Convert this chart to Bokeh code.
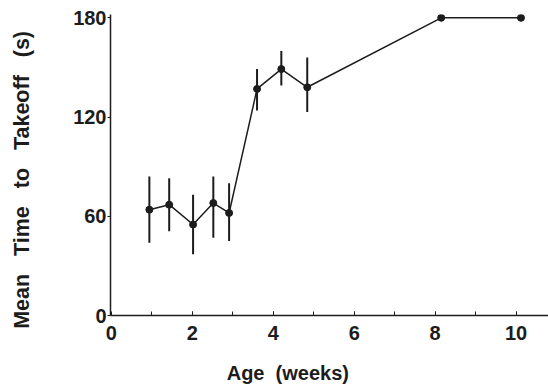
from bokeh.plotting import figure
from bokeh.models import Range1d, FixedTicker
from bokeh.embed import file_html
from bokeh.resources import INLINE

# Data
age_weeks = [0.94, 1.43, 2.02, 2.52, 2.91, 3.6, 4.2, 4.84, 8.15, 10.12]
mean_time = [64, 67, 55, 68, 62, 137, 149, 138, 180, 180]
err_upper = [84, 83, 73, 84, 80, 149, 160, 156, 180, 180]
err_lower = [44, 51, 37, 47, 45, 124, 139, 123, 180, 180]
x_ticks = [0, 2, 4, 6, 8, 10]
x_minor = [1, 2, 3, 4, 5, 6, 7, 8, 9, 10]
y_ticks = [0, 60, 120, 180]

INK = "#1c1c1c"
FONT = "Liberation Sans"
NB = "\u00a0"

p = figure(width=548, height=386, output_backend="svg", toolbar_location=None,
           x_range=Range1d(-0.02, 10.8), y_range=Range1d(0, 182),
           min_border_left=110, min_border_right=0, min_border_top=14, min_border_bottom=71)
p.outline_line_color = None
p.grid.visible = False

# error bars
p.segment(x0=age_weeks, y0=err_lower, x1=age_weeks, y1=err_upper, line_color=INK, line_width=2)
# connecting line
p.line(age_weeks, mean_time, line_color=INK, line_width=1.5)
p.scatter(age_weeks, mean_time, size=7, fill_color=INK, line_color=INK)

xa = p.xaxis[0]
xa.ticker = FixedTicker(ticks=x_ticks, minor_ticks=x_minor)
xa.axis_label = "Age" + NB * 2 + "(weeks)" + NB * 15
xa.axis_label_text_font = FONT
xa.axis_label_text_font_style = "bold"
xa.axis_label_text_font_size = "20px"
xa.axis_label_text_color = INK
xa.axis_label_standoff = 19
xa.major_label_text_font = FONT
xa.major_label_text_font_style = "bold"
xa.major_label_text_font_size = "20px"
xa.major_label_text_color = INK
xa.major_label_standoff = 10
xa.major_tick_in = 4
xa.major_tick_out = 0
xa.minor_tick_in = 4
xa.minor_tick_out = 0
xa.axis_line_color = INK
xa.axis_line_width = 1.5
xa.major_tick_line_color = INK
xa.minor_tick_line_color = INK

ya = p.yaxis[0]
ya.ticker = FixedTicker(ticks=y_ticks)
ya.axis_label = (NB * 3).join(["Mean", "Time", "to", "Takeoff", "(s)"]) + NB * 5
ya.axis_label_text_font = FONT
ya.axis_label_text_font_style = "bold"
ya.axis_label_text_font_size = "21.5px"
ya.axis_label_text_color = INK
ya.axis_label_standoff = 36
ya.major_label_text_font = FONT
ya.major_label_text_font_style = "bold"
ya.major_label_text_font_size = "20px"
ya.major_label_text_color = INK
ya.major_label_standoff = 1
ya.major_tick_in = 0
ya.major_tick_out = 3
ya.minor_tick_line_color = None
ya.axis_line_color = INK
ya.axis_line_width = 1.5
ya.major_tick_line_color = INK

open("out.html", "w").write(file_html(p, INLINE))
